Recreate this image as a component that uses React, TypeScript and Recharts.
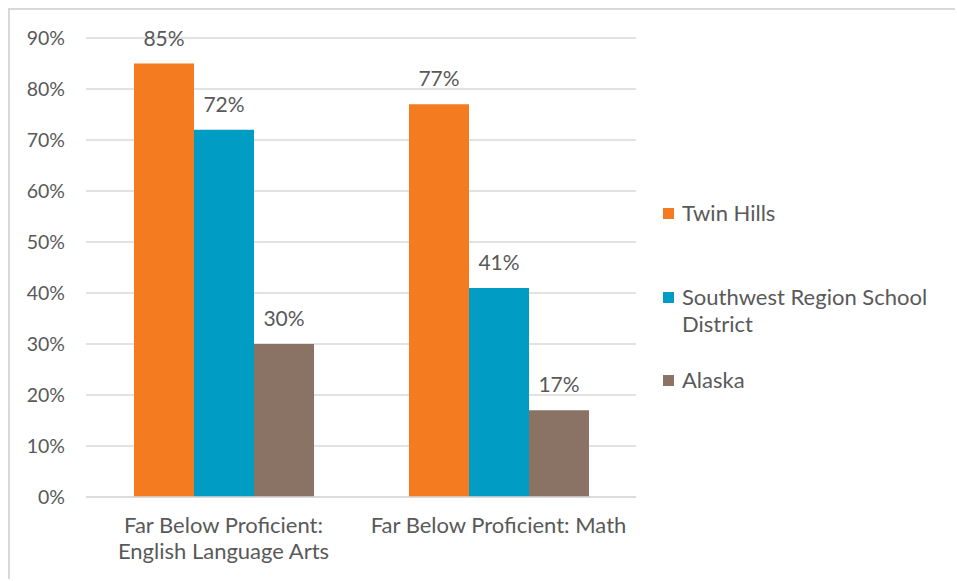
import React from "react";
import { BarChart, Bar, XAxis, YAxis, CartesianGrid, LabelList, Legend } from "recharts";

const categories = ["Far Below Proficient: English Language Arts", "Far Below Proficient: Math"];
const categoryTickLines = [["Far Below Proficient:", "English Language Arts"], ["Far Below Proficient: Math"]];
const twinHills = [85, 77];
const southwestRegion = [72, 41];
const alaska = [30, 17];
const yTicks = [0, 10, 20, 30, 40, 50, 60, 70, 80, 90];

const seriesNames = ["Twin Hills", "Southwest Region School District", "Alaska"];
const seriesColors = ["#F47B20", "#009CC3", "#8A7265"];

const data = categories.map((c, i) => ({
  category: c,
  twin: twinHills[i],
  sw: southwestRegion[i],
  ak: alaska[i],
}));

const FONT = "Lato, 'Open Sans', sans-serif";
const TEXT_COLOR = "#595959";

const XTick = (props: any) => {
  const { x, y, payload, index } = props;
  const idx = typeof index === "number" ? index : categories.indexOf(payload.value);
  const lines = categoryTickLines[idx] || [payload.value];
  return (
    <text x={x} y={y + 28} textAnchor="middle" fill={TEXT_COLOR} style={{ fontSize: 22, fontFamily: FONT }}>
      {lines.map((l: string, i: number) => (
        <tspan key={i} x={x} dy={i === 0 ? 0 : 26}>
          {l}
        </tspan>
      ))}
    </text>
  );
};

const legendTops = [189, 273, 356];

const LegendContent = () => (
  <div style={{ position: "relative", width: 280, height: 500, fontFamily: FONT, color: TEXT_COLOR }}>
    {seriesNames.map((n, i) => (
      <div key={n} style={{ position: "absolute", left: 0, top: legendTops[i], display: "flex", alignItems: "flex-start" }}>
        <div style={{ width: 11, height: 11, background: seriesColors[i], marginTop: 9, marginRight: 8 }} />
        <div style={{ width: 255, fontSize: 22, lineHeight: "27px" }}>{n}</div>
      </div>
    ))}
  </div>
);

const labelStyle = { fontSize: 21, fontFamily: FONT, fill: TEXT_COLOR };

export default function App() {
  return (
    <div
      style={{
        position: "absolute",
        left: 8,
        top: 8,
        width: 945,
        height: 569,
        overflow: "hidden",
        borderTop: "2px solid #d9d9d9",
        borderLeft: "2px solid #d9d9d9",
        background: "#fff",
      }}
    >
      <BarChart
        width={945}
        height={569}
        data={data}
        margin={{ top: 28, right: 319, bottom: 52, left: 0 }}
        barGap={0}
        style={{ overflow: "hidden" }}
      >
        <CartesianGrid vertical={false} stroke="#d9d9d9" strokeWidth={1.5} />
        <XAxis
          dataKey="category"
          axisLine={{ stroke: "#d9d9d9", strokeWidth: 1.5 }}
          tickLine={false}
          interval={0}
          tick={<XTick />}
        />
        <YAxis
          domain={[0, 90]}
          ticks={yTicks}
          width={76}
          axisLine={false}
          tickLine={false}
          tickSize={0}
          tickMargin={21}
          tickFormatter={(v: number) => `${v}%`}
          tick={{ fontSize: 19.5, fontFamily: FONT, fill: TEXT_COLOR }}
        />
        <Legend
          layout="vertical"
          align="center"
          verticalAlign="middle"
          wrapperStyle={{ left: 653, top: 0, width: 280, height: 500 }}
          content={<LegendContent />}
        />
        <Bar dataKey="twin" name={seriesNames[0]} fill={seriesColors[0]} barSize={60} isAnimationActive={false}>
          <LabelList dataKey="twin" position="top" offset={18} formatter={(v: any) => `${v}%`} style={labelStyle} />
        </Bar>
        <Bar dataKey="sw" name={seriesNames[1]} fill={seriesColors[1]} barSize={60} isAnimationActive={false}>
          <LabelList dataKey="sw" position="top" offset={18} formatter={(v: any) => `${v}%`} style={labelStyle} />
        </Bar>
        <Bar dataKey="ak" name={seriesNames[2]} fill={seriesColors[2]} barSize={60} isAnimationActive={false}>
          <LabelList dataKey="ak" position="top" offset={18} formatter={(v: any) => `${v}%`} style={labelStyle} />
        </Bar>
      </BarChart>
    </div>
  );
}
